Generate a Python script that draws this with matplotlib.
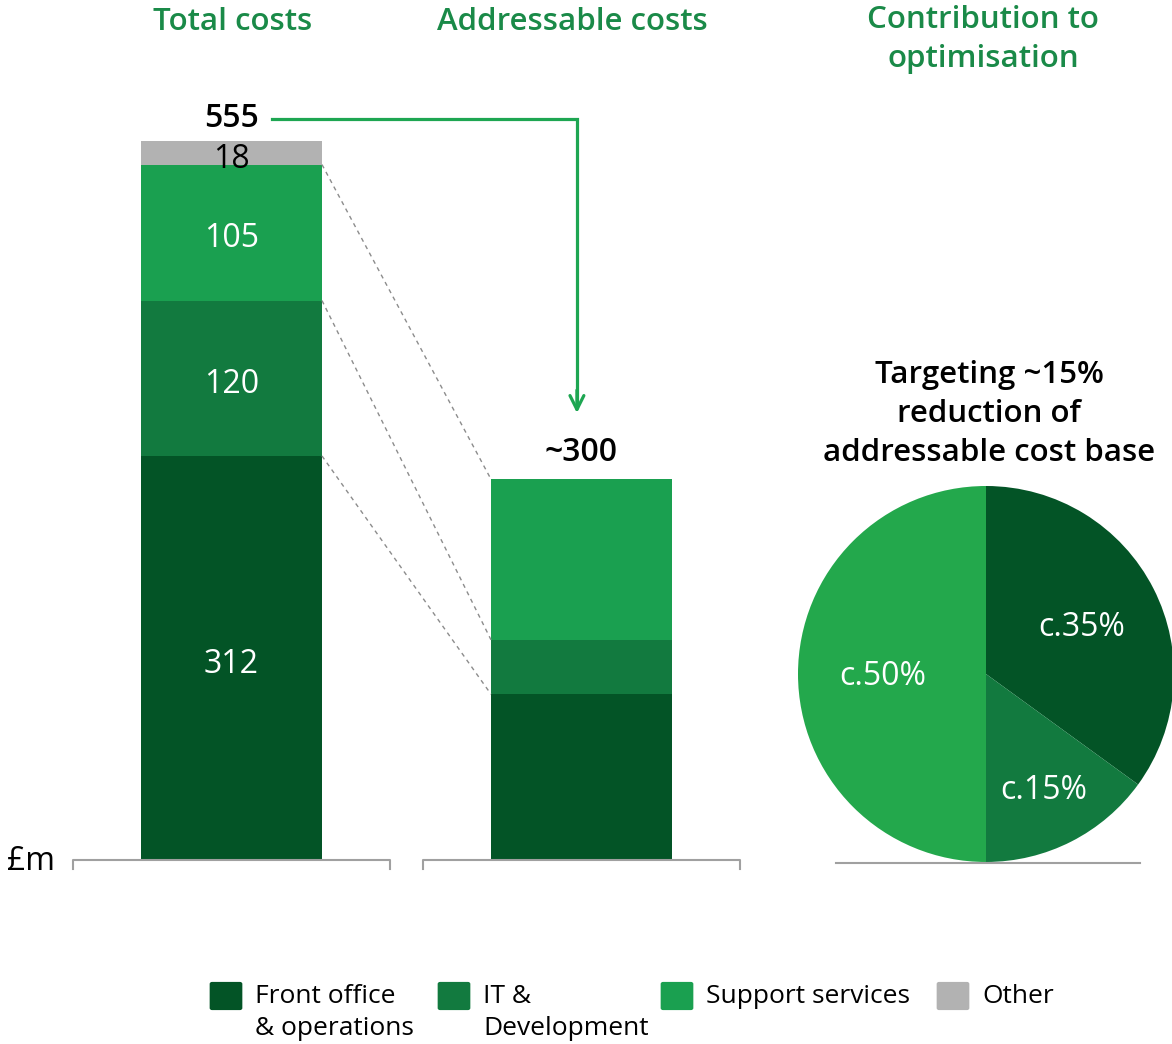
import numpy as np
import matplotlib.pyplot as plt
from matplotlib.patches import FancyBboxPatch

plt.rcParams['font.family'] = ['Open Sans', 'DejaVu Sans']

# data (£m)
categories = ["Front office\n& operations", "IT &\nDevelopment", "Support services", "Other"]
colors = ["#035426", "#127a3f", "#1aa050", "#b2b2b2"]
bar_names = ["Total costs", "Addressable costs"]
total_costs = [312, 120, 105, 18]
addressable_costs = [128, 42, 124, 0]
total_label = "555"
addressable_label = "~300"
pie_shares = [35, 15, 50]
pie_labels = ["c.35%", "c.15%", "c.50%"]
pie_colors = ["#035426", "#127a3f", "#23a84c"]

title_green = "#1a8a48"
arrow_green = "#1ea652"

fig = plt.figure(figsize=(11.72, 10.44), dpi=100)

# ---- stacked bars
ax = fig.add_axes([73 / 1172, 1 - 860 / 1044, 667 / 1172, 777 / 1044])
ax.set_xlim(-0.453, 1.453)
ax.set_ylim(0, 600)
ax.axis('off')

w = 0.517
bottoms = [0, 0]
tops = []
for i, cat in enumerate(categories):
    vals = [total_costs[i], addressable_costs[i]]
    ax.bar([0, 1], vals, width=w, bottom=bottoms, color=colors[i], linewidth=0)
    lab_col = 'black' if cat == "Other" else 'white'
    ax.text(0, bottoms[0] + vals[0] / 2 - 1.8, str(total_costs[i]), ha='center',
            va='center_baseline', color=lab_col, fontsize=23)
    bottoms = [bottoms[0] + vals[0], bottoms[1] + vals[1]]
    tops.append(list(bottoms))

# dashed connectors between the two bars
for k in range(3):
    ax.plot([w / 2, 1 - w / 2], [tops[k][0], tops[k][1]], ls=(0, (3, 3)),
            color='#8c8c8c', lw=1)

# baselines
for xc in [0, 1]:
    ax.plot([xc - 0.453, xc - 0.453, xc + 0.453, xc + 0.453], [-7, 0, 0, -7],
            color='#a0a0a0', lw=1.5, clip_on=False)

ax.text(0, bottoms[0] + 20.5, total_label, ha='center', va='center_baseline',
        fontsize=23, fontweight='semibold')
ax.text(1, bottoms[1] + 23.5, addressable_label, ha='center', va='center_baseline',
        fontsize=23, fontweight='semibold')
fig.text(55 / 1172, 1 - 858 / 1044, "£m", ha='right', va='center_baseline', fontsize=23)

# arrow from total to addressable
ax.plot([0.116, 0.987, 0.987], [572, 572, 350], color=arrow_green, lw=2.3,
        solid_joinstyle='miter')
ax.annotate('', xy=(0.987, 343), xytext=(0.987, 365),
            arrowprops=dict(arrowstyle='->,head_length=1.0,head_width=0.5',
                            color=arrow_green, lw=2.3))

# ---- pie
pax = fig.add_axes([(986 - 188) / 1172, 1 - (674 + 188) / 1044, 376 / 1172, 376 / 1044])
wedges, _ = pax.pie(pie_shares, colors=pie_colors, startangle=90, counterclock=False,
                    wedgeprops=dict(linewidth=0))
pax.set_xlim(-1, 1)
pax.set_ylim(-1, 1)
for wdg, lab, r in zip(wedges, pie_labels, [0.57, 0.68, 0.55]):
    th = np.deg2rad((wdg.theta1 + wdg.theta2) / 2)
    pax.text(r * np.cos(th), r * np.sin(th) + 0.01, lab, ha='center', va='center_baseline',
             color='white', fontsize=23)
pax.plot([-0.8, 0.82], [-1.005, -1.005], color='#a0a0a0', lw=1.5, clip_on=False)

# ---- titles
fig.text(233 / 1172, 1 - 19 / 1044, bar_names[0], ha='center', va='center_baseline',
         fontsize=22.5, fontweight='semibold', color=title_green)
fig.text(572 / 1172, 1 - 19 / 1044, bar_names[1], ha='center', va='center_baseline',
         fontsize=22.5, fontweight='semibold', color=title_green)
fig.text(983 / 1172, 1 - 39.5 / 1044, "Contribution to\noptimisation", ha='center',
         va='center', fontsize=22.5, fontweight='semibold', color=title_green,
         linespacing=1.42)
fig.text(989 / 1172, 1 - 414 / 1044, "Targeting ~15%\nreduction of\naddressable cost base",
         ha='center', va='center', fontsize=22.5, fontweight='semibold', linespacing=1.38)

# ---- legend (handles aligned with first text line)
leg_x = [210, 438, 661, 937]
for x, c, lab in zip(leg_x, colors, categories):
    fig.patches.append(FancyBboxPatch(((x + 2) / 1172, 1 - 1008 / 1044), 28 / 1172, 24 / 1044,
                                      boxstyle='round,pad=0.002', transform=fig.transFigure,
                                      facecolor=c, edgecolor='none'))
    fig.text((x + 45) / 1172, 1 - 984 / 1044, lab, ha='left', va='top', fontsize=19,
             linespacing=1.36)

fig.savefig("out.png", dpi=100)
